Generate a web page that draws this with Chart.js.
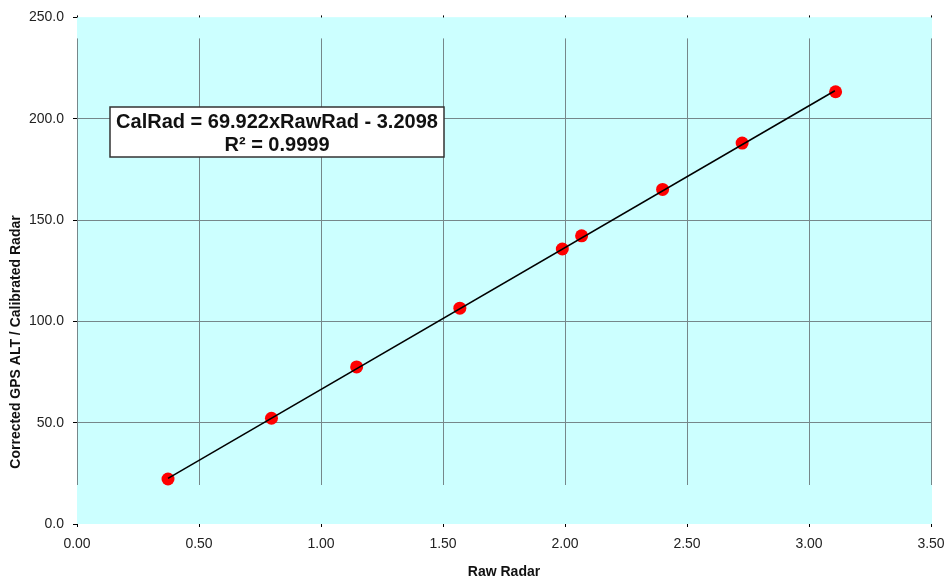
<!DOCTYPE html>
<html>
<head>
<meta charset="utf-8">
<title>Raw Radar calibration</title>
<script src="https://cdn.jsdelivr.net/npm/chart.js@4.4.1/dist/chart.umd.min.js"></script>
<style>
    html, body { margin: 0; padding: 0; background: #ffffff; }
    #wrap { width: 948px; height: 582px; }
</style>
</head>
<body>
<div id="wrap"><canvas id="calChart" width="948" height="582"></canvas></div>
<script>
const rawRadar = [0.373, 0.797, 1.146, 1.569, 1.989, 2.068, 2.400, 2.726, 3.109];
const calRadar = [22.2, 52.2, 77.5, 106.5, 135.7, 142.2, 165.1, 188.0, 213.3];

// Trend line ends (first and last point of the fit)
const trendX = [0.373, 3.106];
const trendY = [22.5, 213.8];

const xTicks = [0, 0.5, 1, 1.5, 2, 2.5, 3, 3.5];
const yTicks = [0, 50, 100, 150, 200, 250];

const fitLines = ['CalRad = 69.922xRawRad - 3.2098', 'R\u00b2 = 0.9999'];
const xTitle = 'Raw Radar';
const yTitle = 'Corrected GPS ALT / Calibrated Radar';

const FONT = "'Liberation Sans', Arial, sans-serif";

// cyan plot background, with the odd gaps at top and bottom of the grid
const plotArea = {
    id: 'plotArea',
    beforeDraw(chart) {
        const a = chart.chartArea, c = chart.ctx;
        c.save();
        c.fillStyle = '#ccffff';
        c.fillRect(a.left, a.top, a.right - a.left, a.bottom - a.top);
        c.restore();
    },
    beforeDatasetsDraw(chart) {
        const a = chart.chartArea, c = chart.ctx;
        c.save();
        c.fillStyle = '#ccffff';
        c.fillRect(a.left, a.top, a.right - a.left + 1, 21);
        c.fillRect(a.left, 485, a.right - a.left + 1, a.bottom - 485);
        c.restore();
    },
    afterDraw(chart) {
        const c = chart.ctx, xs = chart.scales.x, a = chart.chartArea;
        c.save();
        // small ticks above the plot
        c.strokeStyle = '#000';
        c.lineWidth = 1;
        xTicks.forEach(v => {
            const px = Math.round(xs.getPixelForValue(v)) + 0.5;
            c.beginPath();
            c.moveTo(px, a.top - 2);
            c.lineTo(px, a.top);
            c.stroke();
        });
        // rotated y title
        c.translate(16, 342);
        c.rotate(-Math.PI / 2);
        c.font = 'bold 14px ' + FONT;
        c.fillStyle = '#111';
        c.textAlign = 'center';
        c.textBaseline = 'middle';
        c.fillText(yTitle, 0, 0);
        c.restore();
    }
};

// the equation box
const fitBox = {
    id: 'fitBox',
    afterDatasetsDraw(chart) {
        const c = chart.ctx;
        const x = 110, y = 107, w = 334, h = 50;
        c.save();
        c.fillStyle = '#ffffff';
        c.fillRect(x, y, w, h);
        c.strokeStyle = '#333';
        c.lineWidth = 1.5;
        c.strokeRect(x, y, w, h);
        c.fillStyle = '#111';
        c.font = 'bold 20px ' + FONT;
        c.textAlign = 'center';
        c.textBaseline = 'middle';
        c.fillText(fitLines[0], x + w / 2, 122);
        c.fillText(fitLines[1], x + w / 2, 145);
        c.restore();
    }
};

new Chart(document.getElementById('calChart'), {
    type: 'scatter',
    data: {
        datasets: [
            {
                type: 'line',
                label: 'Fit',
                data: trendX.map((v, i) => ({ x: v, y: trendY[i] })),
                borderColor: '#000',
                borderWidth: 1.5,
                pointRadius: 0,
                fill: false,
                order: 0
            },
            {
                label: 'Calibration',
                data: rawRadar.map((v, i) => ({ x: v, y: calRadar[i] })),
                backgroundColor: '#ff0000',
                borderColor: '#ff0000',
                borderWidth: 0,
                pointRadius: 6.5,
                order: 1
            }
        ]
    },
    options: {
        responsive: false,
        animation: false,
        layout: { padding: { top: 16, right: 17, left: 0, bottom: 0 } },
        plugins: {
            legend: { display: false },
            tooltip: { enabled: false }
        },
        scales: {
            x: {
                type: 'linear',
                min: 0,
                max: 3.5,
                afterFit: s => { s.height = 58; s.paddingLeft = 0; s.paddingRight = 0; },
                afterBuildTicks: s => { s.ticks = xTicks.map(v => ({ value: v })); },
                border: { display: false },
                grid: { color: '#76878a', tickColor: '#000', tickLength: 3 },
                ticks: {
                    padding: 9,
                    color: '#222',
                    font: { family: FONT, size: 14 },
                    callback: v => v.toFixed(2)
                },
                title: {
                    display: true,
                    text: xTitle,
                    color: '#111',
                    font: { family: FONT, size: 14, weight: 'bold' },
                    padding: { top: 4, bottom: 1 }
                }
            },
            y: {
                type: 'linear',
                min: 0,
                max: 250,
                afterFit: s => { s.width = 77; },
                afterBuildTicks: s => { s.ticks = yTicks.map(v => ({ value: v })); },
                border: { display: false },
                grid: {
                    color: ctx => (ctx.tick && (ctx.tick.value === 0 || ctx.tick.value === 250)) ? 'rgba(0,0,0,0)' : '#76878a',
                    tickColor: '#000',
                    tickLength: 4
                },
                ticks: {
                    padding: 9,
                    color: '#222',
                    font: { family: FONT, size: 14 },
                    callback: v => v.toFixed(1)
                }
            }
        }
    },
    plugins: [plotArea, fitBox]
});
</script>
</body>
</html>
